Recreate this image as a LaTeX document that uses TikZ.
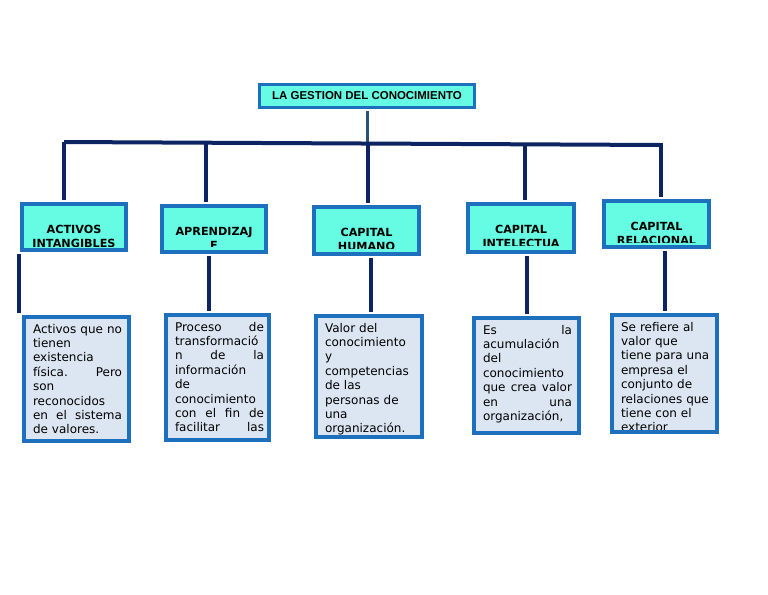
\documentclass[tikz,border=0pt]{standalone}
\usepackage{fontspec}
\setmainfont{DejaVu Sans}
\newfontfamily\titlefont{Liberation Sans}
\usetikzlibrary{positioning}

\definecolor{aqua}{RGB}{102,252,228}
\definecolor{frame}{RGB}{28,112,190}
\definecolor{pale}{RGB}{220,230,242}
\definecolor{navy}{RGB}{12,36,98}
\definecolor{steel}{RGB}{44,82,122}

\tikzset{
  head/.style={draw=frame, fill=aqua, line width=3pt, inner sep=0pt},
  body/.style={draw=frame, fill=pale, line width=3pt, inner sep=0pt},
  inner/.style={draw=none, fill=none, inner sep=0pt, minimum width=0pt, minimum height=0pt},
  % name, bottom cut, text
  headtext/.style n args={3}{path picture={
      \clip (path picture bounding box.north west) rectangle ([shift={(0,-#2)}]path picture bounding box.south east);
      \node (#1) [inner, anchor=north, align=center, font=\fontsize{8.4}{10.1}\selectfont\bfseries]
        at ([shift={(0,19.5)}]path picture bounding box.north) {#3};}},
  bodytext/.style 2 args={path picture={
      \clip (path picture bounding box.north west) rectangle ([shift={(0,-3)}]path picture bounding box.south east);
      \node (#1) [inner, anchor=north west, text width=66.75pt, align=left, font=\fontsize{9}{10.8}\selectfont]
        at ([shift={(7,5)}]path picture bounding box.north west) {#2};}},
  link/.style={draw=navy, line width=3pt, shorten <=1.5pt, shorten >=1.5pt}
}

\begin{document}
\begin{tikzpicture}[x=0.75pt, y=-0.75pt]
	\fill[white] (0,0) rectangle (768,594);
	\useasboundingbox (0,0) rectangle (768,594);
	% root
	\node[head, line width=2.25pt, minimum width=161.25pt, minimum height=17.25pt] (title) at (367,96)
		{\titlefont\bfseries\fontsize{8.6}{10}\selectfont LA GESTION DEL CONOCIMIENTO};
	% second level
	\node[head, minimum width=78pt, minimum height=34.5pt, headtext={t1}{3.5}{ACTIVOS\\INTANGIBLES}] (h1) at (74,227) {};
	\node[head, minimum width=78pt, minimum height=34.5pt, headtext={t2}{6}{APRENDIZAJ\\E}] (h2) at (214,229) {};
	\node[head, minimum width=78.75pt, minimum height=35.25pt, headtext={t3}{6}{CAPITAL\\HUMANO}] (h3) at (366.5,230.5) {};
	\node[head, minimum width=79.5pt, minimum height=36pt, headtext={t4}{7}{CAPITAL\\INTELECTUA}] (h4) at (521,228) {};
	\node[head, minimum width=78.75pt, minimum height=34.5pt, headtext={t5}{4.5}{CAPITAL\\RELACIONAL}] (h5) at (656.5,224) {};
	% definitions
	\node[body, minimum width=78.75pt, minimum height=93pt, bodytext={d1}{Activos\hfill que\hfill no\\ tienen\\ existencia\\ física.\hfill Pero\\ son\\ reconocidos\\ en\hfill el\hfill sistema\\ de valores.}] (b1) at (76.5,379) {};
	\node[body, minimum width=77.25pt, minimum height=93.75pt, bodytext={d2}{Proceso\hfill de\\ transformació\\ n\hfill de\hfill la\\ información\\ de\\ conocimiento\\ con\hfill el\hfill fin\hfill de\\ facilitar\hfill las}] (b2) at (217.5,377.5) {};
	\node[body, minimum width=79.5pt, minimum height=90.75pt, bodytext={d3}{Valor del\\ conocimiento\\ y\\ competencias\\ de las\\ personas de\\ una\\ organización.}] (b3) at (369,376.5) {};
	\node[body, minimum width=78.75pt, minimum height=86.25pt, bodytext={d4}{Es\hfill la\\ acumulación\\ del\\ conocimiento\\ que\hfill crea\hfill valor\\ en\hfill una\\ organización,}] (b4) at (526.5,375.5) {};
	\node[body, minimum width=78.75pt, minimum height=87.75pt, bodytext={d5}{Se refiere al\\ valor que\\ tiene para una\\ empresa el\\ conjunto de\\ relaciones que\\ tiene con el\\ exterior}] (b5) at (664.5,373.5) {};
	% connectors
	\coordinate (barL) at (64,142);
	\coordinate (barR) at (661,145);
	\coordinate (d2) at (206,142.7);
	\coordinate (d3) at (368,143.5);
	\coordinate (d4) at (525,144.3);
	\coordinate (s1) at (19,0);
	\coordinate (s2) at (209,0);
	\coordinate (s3) at (371,0);
	\coordinate (s4) at (527,0);
	\coordinate (s5) at (665,0);
	\draw[link, draw=steel, line width=2.25pt, shorten >=0pt] (title.south) -- (title.south |- barL);
	\draw[link, shorten <=0pt, shorten >=0pt] (barL) -- (barR);
	\draw[link, shorten <=0pt] (barL) -- (barL |- h1.north);
	\draw[link, shorten <=0pt] (d2) -- (d2 |- h2.north);
	\draw[link, shorten <=0pt] (d3) -- (d3 |- h3.north);
	\draw[link, shorten <=0pt] (d4) -- (d4 |- h4.north);
	\draw[link, shorten <=-1.5pt] (barR) -- (barR |- h5.north);
	\draw[link] (s1 |- h1.south) -- (s1 |- b1.north);
	\draw[link] (s2 |- h2.south) -- (s2 |- b2.north);
	\draw[link] (s3 |- h3.south) -- (s3 |- b3.north);
	\draw[link] (s4 |- h4.south) -- (s4 |- b4.north);
	\draw[link] (s5 |- h5.south) -- (s5 |- b5.north);
\end{tikzpicture}
\end{document}
